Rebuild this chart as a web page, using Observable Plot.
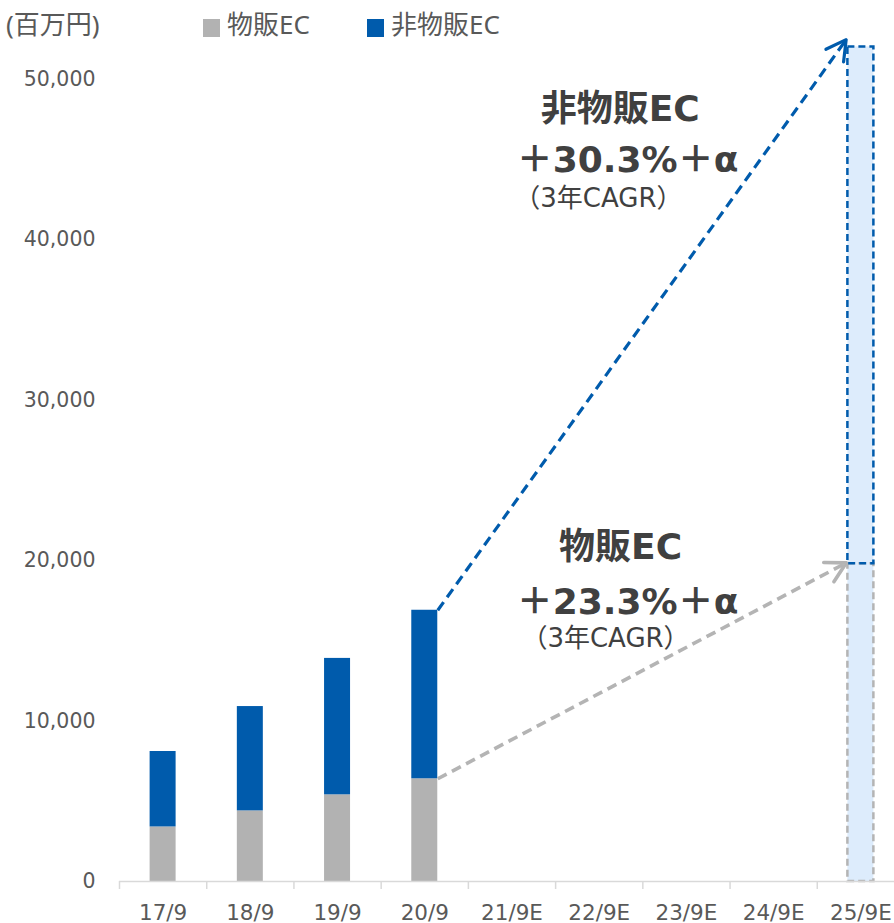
<!DOCTYPE html>
<html>
<head>
<meta charset="utf-8">
<script src="https://cdn.jsdelivr.net/npm/d3@7"></script>
<script src="https://cdn.jsdelivr.net/npm/@observablehq/plot@0.6"></script>
<style>
  body { margin: 0; background: #fff; font-family: "DejaVu Sans", "Noto Sans CJK JP", sans-serif; }
  #wrap { width: 894px; }
  #head { position: relative; height: 40px; color: #595959; font-size: 26px; line-height: 1;
          font-family: "Noto Sans", "Noto Sans CJK JP", sans-serif; }
  #head span { position: absolute; white-space: nowrap; }
  .sw { width: 17px; height: 18px; top: 19px; }
  .lab { top: 11px; }
  svg { overflow: visible; }
</style>
</head>
<body>
<div id="wrap">
  <div id="head"></div>
  <div id="chart"></div>
</div>
<script>
// ---- data ----
const categories = ["17/9", "18/9", "19/9", "20/9", "21/9E", "22/9E", "23/9E", "24/9E", "25/9E"];
const seriesNames = ["物販EC", "非物販EC"];
const physicalEC = [3400, 4400, 5400, 6400];        // 17/9 – 20/9
const nonPhysicalEC = [4700, 6500, 8500, 10500];    // 17/9 – 20/9
const forecastIndex = 8;                              // 25/9E
const forecastPhysicalEC = 19800;
const forecastTotal = 52000;
const arrowTargets = [52450, 19850];                  // tips: 非物販EC, 物販EC
const yTicks = [0, 10000, 20000, 30000, 40000, 50000];
const unitLabel = "(百万円)";
const annotationTitles = ["非物販EC", "物販EC"];
const cagrLabels = ["＋30.3%＋α", "＋23.3%＋α"];
const cagrNote = "（3年CAGR）";

// ---- styles ----
const grey = "#b2b2b2", blue = "#005bac", lightBlue = "#ddecfc";
const greyArrow = "#b4b4b4";
const hw = 0.149;
const font = "DejaVu Sans, Noto Sans CJK JP, sans-serif";

// ---- header (unit + legend) ----
const head = document.getElementById("head");
head.innerHTML =
  `<span class="lab" style="left:6px">${unitLabel}</span>` +
  `<span class="sw" style="left:203px;background:${grey}"></span>` +
  `<span class="lab" style="left:227px">${seriesNames[0]}</span>` +
  `<span class="sw" style="left:367px;background:${blue}"></span>` +
  `<span class="lab" style="left:391px">${seriesNames[1]}</span>`;

// ---- scales ----
const xOpts = {type: "linear", domain: [-0.5, categories.length - 0.5], range: [119, 904]};
const yOpts = {type: "linear", domain: [0, 50000], range: [841, 38.5]};
const sx = Plot.scale({x: xOpts}), sy = Plot.scale({y: yOpts});

const bars = physicalEC.map((p, i) => ({i, p, t: p + nonPhysicalEC[i]}));
const last = physicalEC.length - 1;
const arrows = [
  {x1: last + hw, y1: bars[last].t, x2: forecastIndex - hw - 0.02, y2: arrowTargets[0], c: blue, w: 3.2},
  {x1: last + hw, y1: bars[last].p, x2: forecastIndex - hw - 0.02, y2: arrowTargets[1], c: greyArrow, w: 3.6}
];
arrows.forEach(a => {
  a.len = Math.hypot(sx.apply(a.x2) - sx.apply(a.x1), sy.apply(a.y2) - sy.apply(a.y1));
});
const boundaries = d3.range(-0.5, categories.length, 1);

const fc = [{i: forecastIndex}];

const plot = Plot.plot({
  width: 894,
  height: 883,
  marginLeft: 119,
  marginRight: 0,
  marginTop: 0,
  marginBottom: 42,
  x: xOpts,
  y: yOpts,
  style: {fontFamily: font, color: "#595959", background: "#fff", overflow: "visible"},
  marks: [
    // forecast bar
    Plot.rect(fc, {x1: d => d.i - hw, x2: d => d.i + hw, y1: 0, y2: forecastTotal, fill: lightBlue}),
    Plot.rect(fc, {x1: d => d.i - hw, x2: d => d.i + hw, y1: 0, y2: forecastPhysicalEC,
      fill: "none", stroke: greyArrow, strokeWidth: 2.5, strokeDasharray: "7,4"}),
    Plot.rect(fc, {x1: d => d.i - hw, x2: d => d.i + hw, y1: forecastPhysicalEC, y2: forecastTotal,
      fill: "none", stroke: blue, strokeWidth: 2.5, strokeDasharray: "7,4"}),
    // actual stacked bars
    Plot.rect(bars, {x1: d => d.i - hw, x2: d => d.i + hw, y1: 0, y2: "p", fill: grey}),
    Plot.rect(bars, {x1: d => d.i - hw, x2: d => d.i + hw, y1: "p", y2: "t", fill: blue}),
    // axes
    Plot.ruleY([0], {stroke: "#d9d9d9", strokeWidth: 1.5}),
    Plot.axisX({ticks: boundaries, tickFormat: () => "", tickSize: 8, stroke: "#d9d9d9", strokeWidth: 1.5, label: null}),
    Plot.axisX({ticks: d3.range(categories.length), tickFormat: i => categories[i], tickSize: 0,
      tickPadding: 23, fontSize: 21.5, fill: "#595959", label: null}),
    Plot.axisY({ticks: yTicks, tickFormat: d3.format(","), tickSize: 0, tickPadding: 24,
      fontSize: 20.5, fill: "#595959", label: null}),
    // arrows: dashed shaft + solid head
    ...arrows.map(a => Plot.link([a], {x1: "x1", y1: "y1", x2: "x2", y2: "y2", stroke: a.c, strokeWidth: a.w, strokeDasharray: "10,6"})),
    ...arrows.map(a => Plot.arrow([a], {x1: "x1", y1: "y1", x2: "x2", y2: "y2", stroke: a.c, strokeWidth: a.w,
      headLength: 10.5 * 3.2 / a.w, headAngle: 58, insetStart: a.len - 3})),
    // annotations
    Plot.text([annotationTitles[0]], {x: 5.24, y: 48100, text: d => d, fontSize: 36, fontWeight: "bold", fill: "#404040", lineAnchor: "middle"}),
    Plot.text([cagrLabels[0]], {x: 5.325, y: 44920, text: d => d, fontSize: 36, fontWeight: "bold", fill: "#404040", lineAnchor: "middle"}),
    Plot.text([cagrNote], {x: 4.99, y: 42550, text: d => d, fontSize: 26, fill: "#404040", lineAnchor: "middle"}),
    Plot.text([annotationTitles[1]], {x: 5.245, y: 20810, text: d => d, fontSize: 36, fontWeight: "bold", fill: "#404040", lineAnchor: "middle"}),
    Plot.text([cagrLabels[1]], {x: 5.325, y: 17380, text: d => d, fontSize: 36, fontWeight: "bold", fill: "#404040", lineAnchor: "middle"}),
    Plot.text([cagrNote], {x: 5.072, y: 15140, text: d => d, fontSize: 26, fill: "#404040", lineAnchor: "middle"})
  ]
});
document.getElementById("chart").appendChild(plot);
</script>
</body>
</html>
